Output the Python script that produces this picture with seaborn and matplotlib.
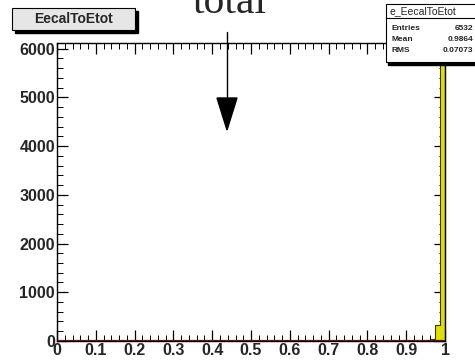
import numpy as np
import pandas as pd
import seaborn as sns
import matplotlib
matplotlib.use("Agg")
import matplotlib.pyplot as plt
from matplotlib.patches import Rectangle
from matplotlib.ticker import MultipleLocator

# ---- data ----
bin_edges = [round(0.0125 * i, 4) for i in range(81)]
bin_low = [0.95, 0.9625, 0.975, 0.9875]
bin_counts = [10, 45, 330, 5830]
x_ticks = [0, 0.1, 0.2, 0.3, 0.4, 0.5, 0.6, 0.7, 0.8, 0.9, 1]
x_tick_labels = ["0", "0.1", "0.2", "0.3", "0.4", "0.5", "0.6", "0.7", "0.8", "0.9", "1"]
y_ticks = [0, 1000, 2000, 3000, 4000, 5000, 6000]
title_text = "EecalToEtot"
stats_name = "e_EecalToEtot"
stats_rows = [("Entries", "6532"), ("Mean", "0.9864"), ("RMS", "0.07073")]
annotation = "total"

df = pd.DataFrame({"x": [b + 0.006 for b in bin_low], "w": bin_counts})

sns.set_style("white")
plt.rcParams["font.family"] = ["Liberation Sans", "DejaVu Sans"]

fig = plt.figure(figsize=(4.75, 3.6), dpi=100)
ax = fig.add_axes([0.12, 0.053, 0.817, 0.828])

sns.histplot(data=df, x="x", weights="w", bins=bin_edges, element="step",
             fill=True, color="#e0e000", alpha=1.0, edgecolor="#3a3a00",
             linewidth=0.8, ax=ax)
ax.axhline(0, color="#6a1010", lw=1.6, zorder=5)

ax.set_xlim(0, 1.0)
ax.set_ylim(0, 6120)
ax.set_xlabel("")
ax.set_ylabel("")
ax.set_xticks(x_ticks)
ax.set_xticklabels(x_tick_labels)
ax.set_yticks(y_ticks)
ax.xaxis.set_minor_locator(MultipleLocator(0.02))
ax.yaxis.set_minor_locator(MultipleLocator(200))
ax.tick_params(which="both", direction="in", top=True, right=True,
               bottom=True, left=True, color="black")
ax.tick_params(which="major", length=8, width=0.9, labelsize=11.5, pad=1.5)
ax.tick_params(which="minor", length=4, width=0.7)
for lab in ax.get_xticklabels() + ax.get_yticklabels():
    lab.set_fontweight("bold")
for s in ax.spines.values():
    s.set_color("black")
    s.set_linewidth(1.0)

# title box
fig.patches.append(Rectangle((15 / 475, 1 - 33 / 360), 123 / 475, 22 / 360,
                             transform=fig.transFigure, facecolor="black",
                             edgecolor="black", zorder=3))
fig.patches.append(Rectangle((12 / 475, 1 - 30 / 360), 123 / 475, 22 / 360,
                             transform=fig.transFigure, facecolor="#e6e6e6",
                             edgecolor="black", lw=0.8, zorder=4))
fig.text(73.5 / 475, 1 - 19 / 360, title_text, ha="center", va="center",
         fontsize=10, fontweight="bold", zorder=5)

# stats box
fig.patches.append(Rectangle((388 / 475, 1 - 65 / 360), 100 / 475, 60 / 360,
                             transform=fig.transFigure, facecolor="black",
                             edgecolor="black", zorder=3))
fig.patches.append(Rectangle((386 / 475, 1 - 62 / 360), 100 / 475, 58 / 360,
                             transform=fig.transFigure, facecolor="white",
                             edgecolor="black", lw=0.8, zorder=4))
fig.add_artist(plt.Line2D([386 / 475, 1], [1 - 18 / 360] * 2, color="black",
                          lw=0.8, transform=fig.transFigure, zorder=5))
fig.text(389 / 475, 1 - 11.5 / 360, stats_name, ha="left", va="center",
         fontsize=7.5, zorder=6)
for i, (k, v) in enumerate(stats_rows):
    yy = 1 - (28 + i * 11.5) / 360
    fig.text(391 / 475, yy, k, ha="left", va="center", fontsize=6,
             fontweight="bold", zorder=6)
    fig.text(473 / 475, yy, v, ha="right", va="center", fontsize=6,
             fontweight="bold", zorder=6)

# annotation
fig.text(230 / 475, 1 - 13 / 360, annotation, ha="center", va="baseline",
         fontsize=30, family=["Liberation Serif", "DejaVu Serif"])
fig.add_artist(plt.Line2D([227 / 475] * 2, [1 - 32 / 360, 1 - 105 / 360],
                          color="black", lw=1.0, transform=fig.transFigure))
fig.patches.append(plt.Polygon([[217 / 475, 1 - 98 / 360],
                                [237 / 475, 1 - 98 / 360],
                                [227 / 475, 1 - 130 / 360]],
                               closed=True, transform=fig.transFigure,
                               facecolor="black", edgecolor="black"))

fig.savefig("out.png", dpi=100)
